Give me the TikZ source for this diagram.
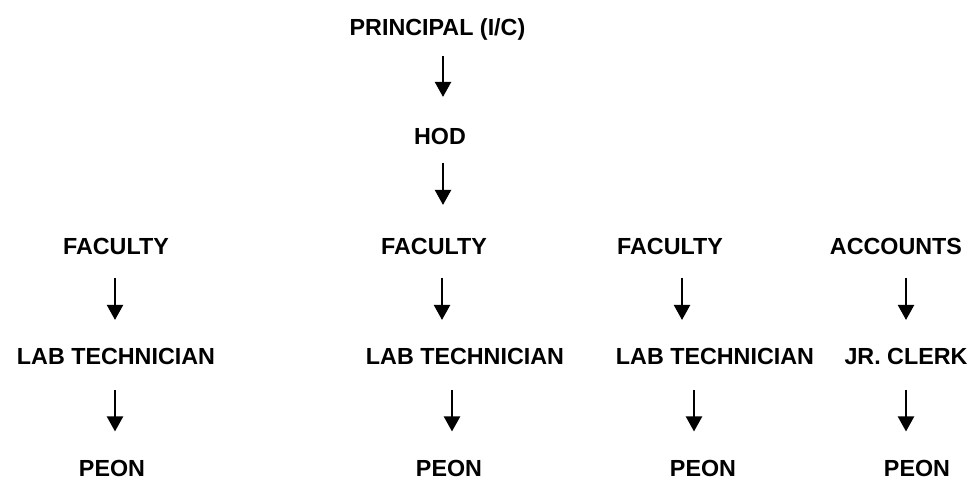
\documentclass[tikz,border=0pt]{standalone}
\usepackage{fontspec}
\setmainfont{Liberation Sans}
\usetikzlibrary{arrows.meta}
\begin{document}
\begin{tikzpicture}[x=1pt,y=-1pt,
	post/.style={font=\fontsize{23.3pt}{28pt}\selectfont\bfseries,inner sep=0pt,text height=16.7pt,text depth=0pt},
	arr/.style={line width=2.2pt,-{Triangle[length=15pt,width=16pt]},shorten <=23pt,shorten >=28pt}]
	\useasboundingbox (0,0) rectangle (976,479);
	\node[post] (PR) at (437.5,27.5) {PRINCIPAL (I/C)};
	\node[post] (HOD) at (440,136.5) {HOD};
	\node[post] (FA1) at (116,246.5) {FACULTY};
	\node[post] (FA2) at (434,246.5) {FACULTY};
	\node[post] (FA3) at (670,246.5) {FACULTY};
	\node[post] (ACC) at (896,246.5) {ACCOUNTS};
	\node[post] (LT1) at (116,356.5) {LAB TECHNICIAN};
	\node[post] (LT2) at (465,356.5) {LAB TECHNICIAN};
	\node[post] (LT3) at (715,356.5) {LAB TECHNICIAN};
	\node[post] (JC) at (906,356.5) {JR. CLERK};
	\node[post] (PE1) at (112,468) {PEON};
	\node[post] (PE2) at (449,468) {PEON};
	\node[post] (PE3) at (703,468) {PEON};
	\node[post] (PE4) at (917,468) {PEON};
	\draw[arr,shorten <=20pt,shorten >=31pt] ([xshift=5.5pt]PR.south) -- ([xshift=5.5pt]PR.south |- HOD.north);
	\draw[arr,shorten <=18pt,shorten >=33pt] ([xshift=3pt]HOD.south) -- ([xshift=3pt]HOD.south |- FA2.north);
	\draw[arr] ([xshift=-1pt]FA1.south) -- ([xshift=-1pt]FA1.south |- LT1.north);
	\draw[arr] ([xshift=8pt]FA2.south) -- ([xshift=8pt]FA2.south |- LT2.north);
	\draw[arr] ([xshift=12pt]FA3.south) -- ([xshift=12pt]FA3.south |- LT3.north);
	\draw[arr] ([xshift=10pt]ACC.south) -- ([xshift=10pt]ACC.south |- JC.north);
	\draw[arr,shorten <=25pt] ([xshift=-1pt]LT1.south) -- ([xshift=-1pt]LT1.south |- PE1.north);
	\draw[arr,shorten <=25pt] ([xshift=-13pt]LT2.south) -- ([xshift=-13pt]LT2.south |- PE2.north);
	\draw[arr,shorten <=25pt] ([xshift=-21pt]LT3.south) -- ([xshift=-21pt]LT3.south |- PE3.north);
	\draw[arr,shorten <=25pt] (JC.south) -- (JC.south |- PE4.north);
\end{tikzpicture}
\end{document}
